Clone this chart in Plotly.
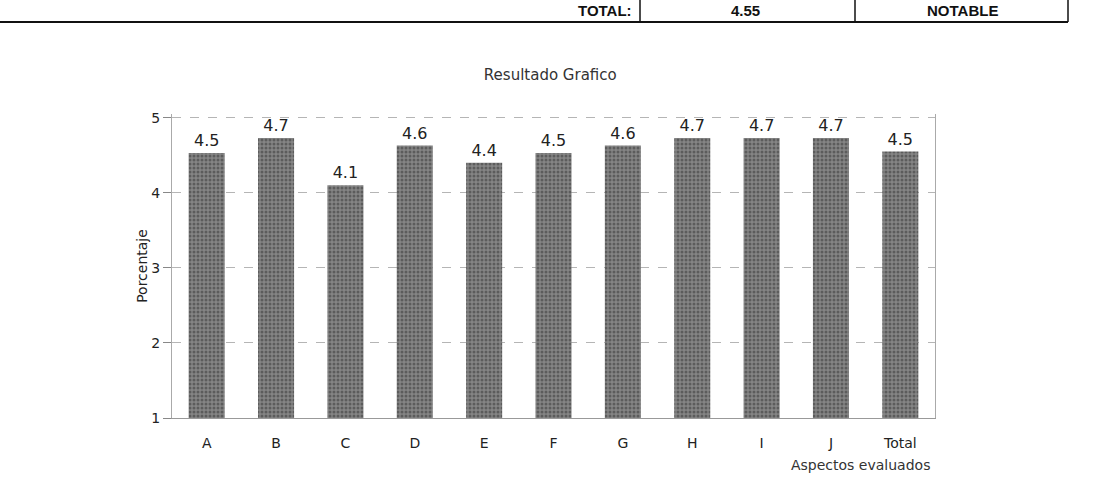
import plotly.graph_objects as go

categories = ["A", "B", "C", "D", "E", "F", "G", "H", "I", "J", "Total"]
values = [4.53, 4.73, 4.1, 4.63, 4.4, 4.53, 4.63, 4.73, 4.73, 4.73, 4.55]
labels = ["4.5", "4.7", "4.1", "4.6", "4.4", "4.5", "4.6", "4.7", "4.7", "4.7", "4.5"]
y_ticks = [1, 2, 3, 4, 5]

font_family = "DejaVu Sans, Verdana, sans-serif"

L, R, T, B = 172, 159, 114, 65
PW, PH = 1094 - L - R, 483 - T - B


def px(xp):
    return (xp - L) / PW


def py(yp):
    return (483 - B - yp) / PH


fig = go.Figure()
fig.add_trace(go.Bar(
    x=categories,
    y=values,
    base=0,
    text=labels,
    textposition="outside",
    textfont=dict(size=16, color="#222", family=font_family),
    cliponaxis=False,
    marker=dict(color="#6a6a6a", line=dict(width=0),
                pattern=dict(shape=".", fgcolor="#333", bgcolor="#858585", size=4, solidity=0.45)),
    showlegend=False,
))

fig.update_layout(
    width=1094, height=483,
    margin=dict(l=L, r=R, t=T, b=B, autoexpand=False),
    paper_bgcolor="white", plot_bgcolor="white",
    bargap=0.48,
    font=dict(family=font_family, color="#222"),
    title=dict(text="Resultado Grafico", x=0.503, xanchor="center", y=1 - 75 / 483, yanchor="middle",
               font=dict(size=15, color="#333", family=font_family)),
    xaxis=dict(
        automargin=False,
        tickfont=dict(size=14, family=font_family),
        showgrid=False, showline=True, linecolor="#999", linewidth=1, mirror=False,
        ticks="outside", ticklen=12, tickcolor="rgba(0,0,0,0)",
    ),
    yaxis=dict(
        automargin=False,
        title=dict(text="Porcentaje", font=dict(size=14, family=font_family), standoff=0),
        range=[1, 5.05], tickvals=y_ticks,
        tickfont=dict(size=14, family=font_family),
        showgrid=True, gridcolor="#b5b5b5", griddash="dash", gridwidth=1,
        showline=True, linecolor="#aaa", mirror=True,
        ticks="outside", ticklen=8, tickcolor="#888",
        zeroline=False,
    ),
)

fig.add_annotation(text="Aspectos evaluados", xref="paper", yref="paper", x=px(932), y=py(465),
                   xanchor="right", yanchor="middle", showarrow=False,
                   font=dict(size=14, family=font_family, color="#333"))

# header table fragment from the scanned page
fig.add_shape(type="line", xref="paper", yref="paper", x0=px(0), x1=px(1068),
              y0=py(22), y1=py(22), line=dict(color="#111", width=2))
for xpix in [640, 855, 1068]:
    fig.add_shape(type="line", xref="paper", yref="paper", x0=px(xpix), x1=px(xpix),
                  y0=py(22), y1=py(0), line=dict(color="#111", width=1.5))
for txt, xpix, anchor in [("TOTAL:", 633, "right"), ("4.55", 745, "center"), ("NOTABLE", 962, "center")]:
    fig.add_annotation(text="<b>" + txt + "</b>", xref="paper", yref="paper",
                       x=px(xpix), y=py(11),
                       xanchor=anchor, yanchor="middle", borderpad=0,
                       showarrow=False, font=dict(size=15, family="Liberation Sans, Arial", color="#111"))

fig.write_html("out.html", config={"displayModeBar": False},
               post_script="document.body.style.margin='0';document.body.style.overflow='hidden';")
